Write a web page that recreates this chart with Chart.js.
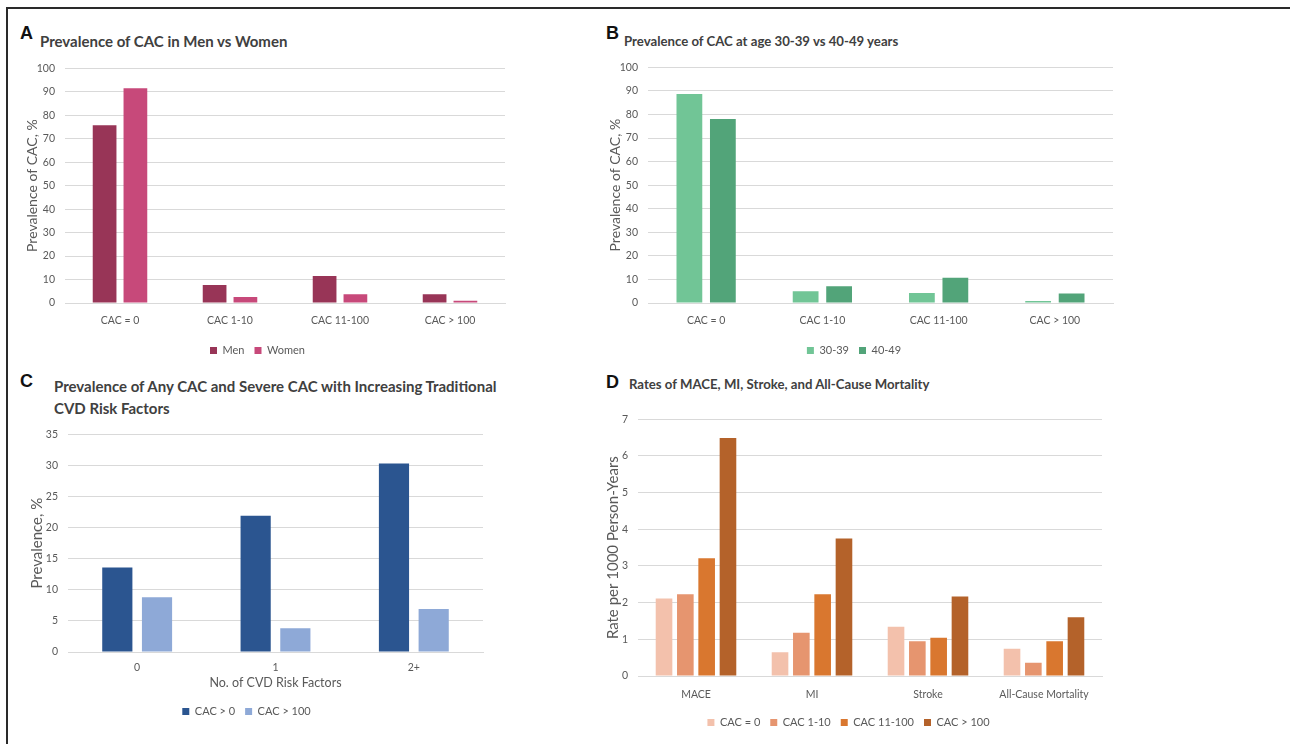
<!DOCTYPE html>
<html>
<head>
<meta charset="utf-8">
<script src="https://cdn.jsdelivr.net/npm/chart.js@4.4.1/dist/chart.umd.min.js"></script>
<style>
  body { margin: 0; background: #fff; width: 1290px; height: 744px; overflow: hidden; position: relative; font-family: Lato, sans-serif; }
  .frame-top { position: absolute; left: 6px; top: 7px; width: 1284px; height: 2px; background: #2a2a2a; }
  .frame-left { position: absolute; left: 6px; top: 7px; width: 2px; height: 737px; background: #2a2a2a; }
  .letter { position: absolute; font-family: "Liberation Sans", Arial, sans-serif; font-weight: bold; font-size: 18px; color: #111; line-height: 18px; }
  .title { position: absolute; font-family: Lato, sans-serif; font-weight: bold; font-size: 15px; color: #404040; line-height: 22px; white-space: nowrap; }
  .box { position: absolute; }
</style>
</head>
<body>
<div class="frame-top"></div>
<div class="frame-left"></div>

<div class="letter" style="left:20px; top:24px;">A</div>
<div class="title" style="left:40px; top:30px;">Prevalence of CAC in Men vs Women</div>
<div class="letter" style="left:606px; top:24px;">B</div>
<div class="title" style="left:624px; top:30px; font-size:13.2px;">Prevalence of CAC at age 30-39 vs 40-49 years</div>
<div class="letter" style="left:20px; top:372px;">C</div>
<div class="title" style="left:54px; top:375px;">Prevalence of Any CAC and Severe CAC with Increasing Traditional<br>CVD Risk Factors</div>
<div class="letter" style="left:606px; top:373px;">D</div>
<div class="title" style="left:629px; top:373px; font-size:13.2px;">Rates of MACE, MI, Stroke, and All-Cause Mortality</div>

<div class="box" style="left:10px; top:52px; width:510px; height:314px;"><canvas id="chartA"></canvas></div>
<div class="box" style="left:595px; top:51px; width:530px; height:315px;"><canvas id="chartB"></canvas></div>
<div class="box" style="left:10px; top:418px; width:535px; height:309px;"><canvas id="chartC"></canvas></div>
<div class="box" style="left:595px; top:403px; width:520px; height:335px;"><canvas id="chartD"></canvas></div>

<script>
// Panel A: prevalence by sex
const cacCategories = ['CAC = 0', 'CAC 1-10', 'CAC 11-100', 'CAC > 100'];
const menValues = [75.7, 7.7, 11.5, 3.7];
const womenValues = [91.5, 2.6, 3.7, 1.0];

// Panel B: prevalence by age group
const age3039Values = [88.7, 5.0, 4.2, 0.9];
const age4049Values = [78.1, 7.1, 10.7, 4.0];

// Panel C: any / severe CAC by number of risk factors
const riskFactorCategories = ['0', '1', '2+'];
const anyCacValues = [13.6, 21.9, 30.3];
const severeCacValues = [8.8, 3.8, 6.9];

// Panel D: event rates per 1000 person-years
const outcomeCategories = ['MACE', 'MI', 'Stroke', 'All-Cause Mortality'];
const rateCac0 = [2.11, 0.65, 1.34, 0.74];
const rateCac1to10 = [2.23, 1.18, 0.95, 0.36];
const rateCac11to100 = [3.21, 2.23, 1.04, 0.95];
const rateCacOver100 = [6.49, 3.75, 2.17, 1.60];

const TEXT_GREY = '#595959';
const GRID_GREY = '#d9d9d9';
const FONT = 'Lato, sans-serif';

function makePanel(id, cfg) {
  const ctx = document.getElementById(id).getContext('2d');
  return new Chart(ctx, {
    type: 'bar',
    data: {
      labels: cfg.labels,
      datasets: cfg.series.map((s) => ({
        label: s.label,
        data: s.data,
        backgroundColor: s.color,
        borderWidth: 0,
        categoryPercentage: cfg.catPct,
        barPercentage: cfg.barPct,
      })),
    },
    options: {
      responsive: true,
      maintainAspectRatio: false,
      animation: false,
      layout: {
        padding: { top: 0, right: cfg.padRight, left: 0, bottom: 0 },
      },
      plugins: {
        legend: {
          position: 'bottom',
          labels: {
            boxWidth: 7,
            boxHeight: 7,
            padding: 10,
            color: TEXT_GREY,
            font: { family: FONT, size: 11 },
          },
        },
        tooltip: { enabled: false },
      },
      scales: {
        x: {
          grid: { display: false, drawTicks: false },
          border: { display: true, color: GRID_GREY },
          ticks: {
            color: TEXT_GREY,
            padding: cfg.xTickPad,
            font: { family: FONT, size: 10.5 },
            maxRotation: 0,
          },
          title: cfg.xTitle
            ? {
                display: true,
                text: cfg.xTitle,
                color: TEXT_GREY,
                font: { family: FONT, size: 12.5 },
                padding: { top: 0, bottom: cfg.xTitlePad },
              }
            : { display: false },
          afterFit: (scale) => {
            scale.height = cfg.xHeight;
          },
        },
        y: {
          min: 0,
          max: cfg.yMax,
          grid: { color: GRID_GREY, drawTicks: false },
          border: { display: false },
          ticks: {
            stepSize: cfg.yStep,
            color: TEXT_GREY,
            padding: 10,
            font: { family: FONT, size: 10.5 },
          },
          title: {
            display: true,
            text: cfg.yTitle,
            color: TEXT_GREY,
            font: { family: FONT, size: cfg.yTitleSize },
            padding: { top: cfg.yTitlePad, bottom: 0 },
          },
          afterFit: (scale) => {
            scale.width = cfg.yWidth;
          },
        },
      },
    },
  });
}

makePanel('chartA', {
  labels: cacCategories,
  series: [
    { label: 'Men', data: menValues, color: '#983557' },
    { label: 'Women', data: womenValues, color: '#c7497a' },
  ],
  catPct: 0.56, barPct: 0.77,
  padRight: 15,
  yMax: 100, yStep: 10, yWidth: 55,
  yTitle: 'Prevalence of CAC, %', yTitleSize: 14, yTitlePad: 13.6,
  xHeight: 32, xTickPad: 11,
});

makePanel('chartB', {
  labels: cacCategories,
  series: [
    { label: '30-39', data: age3039Values, color: '#71c596' },
    { label: '40-49', data: age4049Values, color: '#52a479' },
  ],
  catPct: 0.576, barPct: 0.77,
  padRight: 12,
  yMax: 100, yStep: 10, yWidth: 53,
  yTitle: 'Prevalence of CAC, %', yTitleSize: 14, yTitlePad: 11.6,
  xHeight: 32, xTickPad: 11,
});

makePanel('chartC', {
  labels: riskFactorCategories,
  series: [
    { label: 'CAC > 0', data: anyCacValues, color: '#2b5590' },
    { label: 'CAC > 100', data: severeCacValues, color: '#8ea9d7' },
  ],
  catPct: 0.574, barPct: 0.76,
  padRight: 62,
  yMax: 35, yStep: 5, yWidth: 58,
  yTitle: 'Prevalence, %', yTitleSize: 15, yTitlePad: 18,
  xHeight: 44, xTickPad: 9, xTitle: 'No. of CVD Risk Factors', xTitlePad: 6,
});

makePanel('chartD', {
  labels: outcomeCategories,
  series: [
    { label: 'CAC = 0', data: rateCac0, color: '#f3c1ac' },
    { label: 'CAC 1-10', data: rateCac1to10, color: '#e6956f' },
    { label: 'CAC 11-100', data: rateCac11to100, color: '#d9772f' },
    { label: 'CAC > 100', data: rateCacOver100, color: '#b4622a' },
  ],
  catPct: 0.735, barPct: 0.78,
  padRight: 13,
  yMax: 7, yStep: 1, yWidth: 43,
  yTitle: 'Rate per 1000 Person-Years', yTitleSize: 15, yTitlePad: 9,
  xHeight: 31, xTickPad: 12,
});
</script>
</body>
</html>
